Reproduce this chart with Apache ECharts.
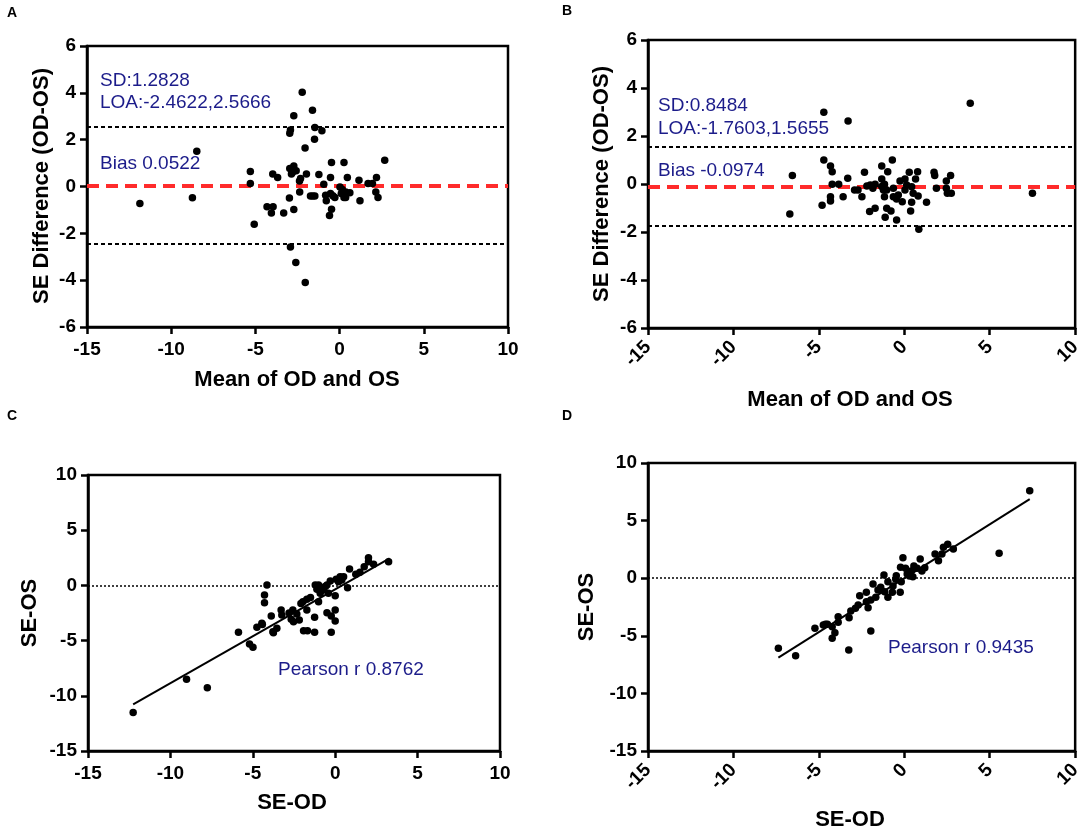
<!DOCTYPE html>
<html>
<head>
<meta charset="utf-8">
<title>Bland-Altman and correlation of SE</title>
<script src="https://cdn.jsdelivr.net/npm/echarts@6/dist/echarts.min.js"></script>
<style>
  html, body { margin: 0; padding: 0; background: #ffffff; }
  #chart { width: 1084px; height: 832px; }
</style>
</head>
<body>
<div id="chart"></div>
<script>
// ---- data ----
// A: Bland-Altman, mean of OD and OS vs SE difference
const aMean = [-11.86, -8.48, -8.74, -2.22, -2.72, -1.61, -2.92, -2.96, -1.47, -1.05, -1.49, -2.05, 2.68, -0.48, 0.26, -5.30, -5.30, -5.07, -3.97, -3.68, -2.96, -2.72, -2.86, -2.58, -2.32, -1.97, -2.38, -2.37, -2.98, -2.72, -3.32, -4.31, -3.95, -4.05, -1.23, -0.94, -0.54, -1.73, -1.47, -0.83, -0.54, -0.79, -0.28, -0.48, -0.60, 0.02, 0.16, 0.36, 0.61, 0.36, 0.46, 1.15, 1.21, 1.69, 1.95, 2.19, 2.15, 2.28, -2.92, -2.60, -2.04, 0.26, -1.60, -2.80, -0.40, 0.10];
const aDiff = [-0.73, 1.51, -0.48, 4.03, 3.02, 3.26, 2.41, 2.27, 2.52, 2.38, 2.02, 1.64, 1.12, 1.03, 1.03, 0.64, 0.13, -1.61, 0.53, 0.38, 0.77, 0.88, 0.53, 0.67, 0.34, 0.53, 0.23, -0.23, -0.49, -0.98, -1.13, -0.87, -0.87, -1.13, 0.51, 0.10, 0.38, -0.41, -0.41, -0.37, -0.30, -0.61, -0.47, -0.97, -1.24, -0.02, -0.13, -0.23, -0.27, -0.47, 0.38, 0.27, -0.61, 0.13, 0.13, 0.38, -0.23, -0.47, -2.58, -3.25, -4.10, -0.47, -0.41, 0.60, -0.40, -0.30];
const aBias = 0.0522;
const aSD = 1.2828;
const aLOA = [-2.4622, 2.5666];

// B
const bMean = [3.86, -4.71, -3.29, -4.71, -4.32, -4.22, -4.22, -3.84, -3.31, -6.55, -6.70, -4.81, -4.32, -4.32, -3.58, -2.91, -2.71, -2.48, -2.33, -2.19, -1.99, -1.84, -1.71, -2.03, -1.71, -1.32, -0.70, -0.97, -1.32, -1.16, -1.22, -1.03, -1.16, -0.64, -0.45, -1.03, -0.78, -1.12, -0.45, -0.25, 0.04, 0.29, 0.78, 0.66, 0.14, 0.43, 0.04, 0.52, 0.81, -0.12, 0.43, 1.30, 0.37, 0.85, 1.74, 1.78, 2.46, 2.71, 1.88, 2.46, 2.75, 2.52, 7.50, -0.64, -1.32, -0.35];
const bDiff = [3.36, 2.99, 2.63, 1.00, 0.75, 0.51, -0.01, -0.01, 0.24, 0.35, -1.25, -0.89, -0.71, -0.53, -0.53, -0.25, -0.25, -0.53, 0.49, -0.08, -0.04, -0.18, -0.01, -1.15, -1.01, 0.75, 1.00, 0.51, 0.21, -0.01, -0.25, -0.25, -0.53, -0.53, -0.62, -1.01, -1.13, -1.39, -1.50, 0.13, 0.21, 0.49, 0.51, 0.21, -0.04, -0.11, -0.25, -0.39, -0.50, -0.74, -0.76, -0.76, -1.13, -1.89, 0.49, 0.35, 0.13, 0.35, -0.18, -0.18, -0.39, -0.39, -0.39, -0.18, -0.10, -0.46];
const bBias = -0.0974;
const bSD = 0.8484;
const bLOA = [-1.7603, 1.5655];

// C: SE-OD vs SE-OS
const cOD = [2.02, 2.02, 3.24, 2.33, 1.76, 0.87, 1.25, 0.30, 0.51, 0.06, 0.20, 0.75, 0.00, -4.14, -4.29, -4.29, -1.21, -1.01, -0.50, -1.11, -0.71, -0.91, -0.41, -1.01, -1.72, -1.96, -2.08, -1.72, 0.00, -0.50, -0.24, 0.00, -1.25, -2.57, -2.33, -2.67, -2.53, -2.18, -3.28, -3.24, -3.88, -3.54, -3.78, -4.45, -4.75, -5.87, -5.20, -4.99, -1.92, -1.68, -1.25, -0.24, -12.26, -9.02, -7.76, -4.42, -3.75, -0.80, -0.30, 0.40, -1.50, -2.80, -0.60, 1.50];
const cOS = [2.51, 2.15, 2.15, 1.91, 1.70, 1.49, 1.00, 0.79, 0.79, 0.55, 0.34, -0.21, -0.93, 0.03, -0.87, -1.57, 0.03, 0.03, 0.03, -0.36, -0.42, -0.72, -0.72, -1.48, -1.26, -1.48, -1.63, -2.23, -2.23, -2.47, -2.77, -3.22, -2.89, -2.23, -2.59, -3.07, -3.29, -3.13, -2.23, -2.68, -2.77, -3.89, -4.19, -3.43, -3.80, -4.25, -5.31, -5.61, -4.10, -4.10, -4.25, -4.25, -11.51, -8.50, -9.28, -3.55, -4.28, -0.20, 0.40, 0.50, -1.10, -2.50, -0.10, 1.20];
const cFit = { slope: 0.851, intercept: -0.35, from: -12.26, to: 3.30 };
const cPearson = 0.8762;

// D
const dOD = [7.34, 5.55, 2.54, 2.29, 2.87, 1.80, 2.00, 0.93, -0.08, 0.56, -0.22, 0.07, 1.03, 0.40, 0.17, 0.50, -0.47, -1.19, -0.96, -0.18, -1.83, -1.38, -1.15, -0.70, -0.24, -0.96, -2.22, -1.67, -2.61, -1.96, -2.22, -2.70, -2.12, -2.86, -3.13, -3.23, -3.87, -3.87, -4.61, -5.23, -4.74, -4.22, -4.06, -4.22, -1.96, -3.25, -6.36, -7.37, -1.54, -0.66, 0.75, -4.50, 1.20, 0.30, -0.50, 2.20];
const dOS = [7.60, 2.16, 2.94, 2.68, 2.53, 2.10, 1.52, 1.67, 1.78, 1.06, 0.95, 0.86, 0.63, 0.63, 0.36, 0.13, 0.22, 0.28, -0.30, -0.30, -0.50, -0.79, -1.17, -1.23, -1.23, -1.66, -1.23, -1.66, -1.52, -1.89, -2.04, -2.33, -2.56, -2.61, -2.85, -3.43, -3.34, -3.83, -4.00, -4.35, -4.06, -4.21, -4.73, -5.22, -4.58, -6.23, -6.73, -6.09, -1.02, -0.68, 0.86, -3.99, 0.90, 0.20, -0.10, 2.10];
const dFit = { slope: 0.936, intercept: 0.0, from: -7.37, to: 7.34 };
const dPearson = 0.9435;

// ---- styles ----
const FONT = '"Liberation Sans", Arial, Helvetica, sans-serif';
const NAVY = '#1c1c8a';

function pairs(xs, ys) {
    return xs.map((x, i) => [x, ys[i]]);
}
function fitLine(f) {
    return [[f.from, f.slope * f.from + f.intercept], [f.to, f.slope * f.to + f.intercept]];
}

function xAxisFor(gridIndex, rotate) {
    return {
        gridIndex: gridIndex,
        type: 'value',
        min: -15, max: 10, interval: 5,
        splitLine: { show: false },
        axisLine: { show: true, onZero: false, lineStyle: { color: '#000', width: 2.5 } },
        axisTick: { show: true, length: 7, lineStyle: { color: '#000', width: 2.5 } },
        axisLabel: {
            color: '#000', fontFamily: FONT, fontWeight: 'bold', fontSize: 19,
            margin: rotate ? 16 : 13, rotate: rotate ? 45 : 0
        }
    };
}
function yAxisFor(gridIndex, min, max, interval) {
    return {
        gridIndex: gridIndex,
        type: 'value',
        min: min, max: max, interval: interval,
        splitLine: { show: false },
        axisLine: { show: true, onZero: false, lineStyle: { color: '#000', width: 2.5 } },
        axisTick: { show: true, length: 7, lineStyle: { color: '#000', width: 2.5 } },
        axisLabel: { color: '#000', fontFamily: FONT, fontWeight: 'bold', fontSize: 19, margin: 11 }
    };
}

const dotStyle = { color: '#000', opacity: 1 };

function blandAltman(idx, data, bias, loa) {
    return {
        type: 'scatter',
        xAxisIndex: idx, yAxisIndex: idx,
        data: data,
        symbolSize: 7.5,
        itemStyle: dotStyle,
        z: 5,
        markLine: {
            silent: true, symbol: 'none', animation: false,
            label: { show: false },
            data: [
                { yAxis: loa[1], lineStyle: { color: '#000', width: 2, type: [4, 3] } },
                { yAxis: loa[0], lineStyle: { color: '#000', width: 2, type: [4, 3] } },
                { yAxis: bias, lineStyle: { color: '#ff2b2b', width: 4, type: [12, 7] } }
            ]
        }
    };
}

function correlation(idx, data) {
    return {
        type: 'scatter',
        xAxisIndex: idx, yAxisIndex: idx,
        data: data,
        symbolSize: 7.5,
        itemStyle: dotStyle,
        z: 5,
        markLine: {
            silent: true, symbol: 'none', animation: false,
            label: { show: false },
            data: [{ yAxis: 0, lineStyle: { color: '#000', width: 1.5, type: [2, 2] } }]
        }
    };
}

function regression(idx, f) {
    return {
        type: 'line',
        xAxisIndex: idx, yAxisIndex: idx,
        data: fitLine(f),
        showSymbol: false,
        lineStyle: { color: '#000', width: 2 },
        z: 4
    };
}

function txt(x, y, text, opts) {
    opts = opts || {};
    return {
        type: 'text',
        x: x, y: y,
        rotation: opts.rotation || 0,
        z: 100,
        style: {
            text: text,
            fill: opts.fill || '#000',
            font: opts.font || ('19px ' + FONT),
            align: opts.align || 'left',
            verticalAlign: 'middle'
        }
    };
}

const chart = echarts.init(document.getElementById('chart'));

const grid = [
    { left: 87, top: 46, width: 421, height: 281 },
    { left: 648, top: 40, width: 430, height: 288 },
    { left: 88, top: 475, width: 412, height: 276 },
    { left: 648, top: 463, width: 430, height: 288 }
].map(g => Object.assign(g, { show: true, borderColor: '#000', borderWidth: 2.5, backgroundColor: 'transparent' }));

const titleFont = 'bold 22px ' + FONT;
const letterFont = 'bold 14px ' + FONT;

chart.setOption({
    animation: false,
    backgroundColor: '#ffffff',
    grid: grid,
    xAxis: [xAxisFor(0, false), xAxisFor(1, true), xAxisFor(2, false), xAxisFor(3, true)],
    yAxis: [
        yAxisFor(0, -6, 6, 2),
        yAxisFor(1, -6, 6, 2),
        yAxisFor(2, -15, 10, 5),
        yAxisFor(3, -15, 10, 5)
    ],
    series: [
        blandAltman(0, pairs(aMean, aDiff), aBias, aLOA),
        blandAltman(1, pairs(bMean, bDiff), bBias, bLOA),
        correlation(2, pairs(cOD, cOS)),
        regression(2, cFit),
        correlation(3, pairs(dOD, dOS)),
        regression(3, dFit)
    ],
    graphic: [
        // panel letters
        txt(7, 13, 'A', { font: letterFont }),
        txt(562, 11, 'B', { font: letterFont }),
        txt(7, 416, 'C', { font: letterFont }),
        txt(562, 416, 'D', { font: letterFont }),
        // axis titles
        txt(42, 186, 'SE Difference (OD-OS)', { font: titleFont, align: 'center', rotation: Math.PI / 2 }),
        txt(297, 380, 'Mean of OD and OS', { font: titleFont, align: 'center' }),
        txt(602, 184, 'SE Difference (OD-OS)', { font: titleFont, align: 'center', rotation: Math.PI / 2 }),
        txt(850, 400, 'Mean of OD and OS', { font: titleFont, align: 'center' }),
        txt(30, 613, 'SE-OS', { font: titleFont, align: 'center', rotation: Math.PI / 2 }),
        txt(292, 803, 'SE-OD', { font: titleFont, align: 'center' }),
        txt(587, 607, 'SE-OS', { font: titleFont, align: 'center', rotation: Math.PI / 2 }),
        txt(850, 820, 'SE-OD', { font: titleFont, align: 'center' }),
        // annotations
        txt(100, 81, 'SD:' + aSD.toFixed(4), { fill: NAVY }),
        txt(100, 103, 'LOA:' + aLOA[0].toFixed(4) + ',' + aLOA[1].toFixed(4), { fill: NAVY }),
        txt(100, 164, 'Bias ' + aBias.toFixed(4), { fill: NAVY }),
        txt(658, 106, 'SD:' + bSD.toFixed(4), { fill: NAVY }),
        txt(658, 129, 'LOA:' + bLOA[0].toFixed(4) + ',' + bLOA[1].toFixed(4), { fill: NAVY }),
        txt(658, 171, 'Bias ' + bBias.toFixed(4), { fill: NAVY }),
        txt(278, 670, 'Pearson r ' + cPearson.toFixed(4), { fill: NAVY }),
        txt(888, 648, 'Pearson r ' + dPearson.toFixed(4), { fill: NAVY })
    ]
});

window.addEventListener('resize', function () {
    chart.resize();
});
</script>
</body>
</html>
